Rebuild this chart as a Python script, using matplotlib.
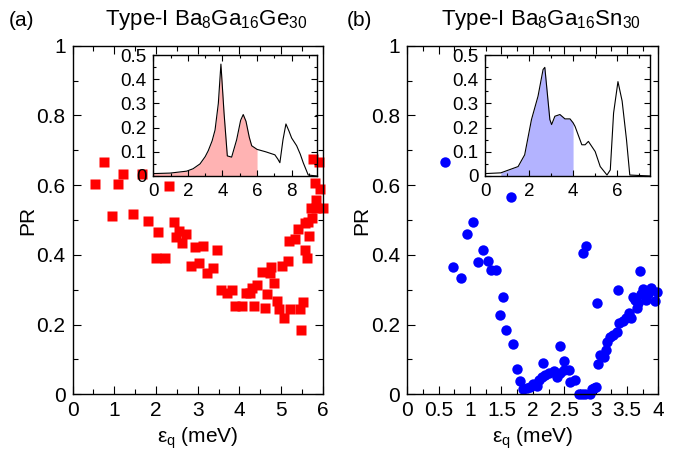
import numpy as np
import matplotlib
matplotlib.use('Agg')
import matplotlib.pyplot as plt
from matplotlib.ticker import MultipleLocator, FuncFormatter

plt.rcParams['font.family'] = 'Liberation Sans'
plt.rcParams['mathtext.fontset'] = 'custom'
plt.rcParams['mathtext.rm'] = 'Liberation Sans'
plt.rcParams['mathtext.it'] = 'Liberation Sans'
plt.rcParams['mathtext.default'] = 'regular'

# (a) Ba8Ga16Ge30 : participation ratio vs energy
ge_x = [0.55, 0.75, 1.10, 1.21, 1.66, 2.32, 0.94, 1.46, 1.81, 2.05,
        2.01, 2.21, 2.44, 2.56, 2.49, 2.73, 2.63, 2.85, 3.03, 2.93,
        3.13, 3.23, 3.37, 3.46, 3.55, 3.69, 3.81, 3.90, 4.06, 4.15,
        4.25, 4.31, 4.41, 4.35, 4.53, 4.72, 4.75, 4.66, 4.61, 4.83,
        4.90, 4.95, 5.03, 5.15, 5.07, 5.20, 5.19, 5.32, 5.40, 5.44,
        5.51, 5.47, 5.56, 5.64, 5.74, 5.56, 5.61, 5.67, 5.71, 5.84,
        5.99, 5.83, 5.80, 5.92, 5.75, 5.91]
ge_y = [0.602, 0.667, 0.602, 0.631, 0.631, 0.598, 0.513, 0.516, 0.497, 0.465,
        0.390, 0.390, 0.493, 0.469, 0.450, 0.460, 0.435, 0.369, 0.376, 0.422,
        0.426, 0.347, 0.362, 0.414, 0.299, 0.290, 0.299, 0.254, 0.254, 0.290,
        0.290, 0.304, 0.314, 0.254, 0.350, 0.347, 0.364, 0.288, 0.247, 0.318,
        0.269, 0.245, 0.369, 0.383, 0.218, 0.245, 0.441, 0.446, 0.474, 0.245,
        0.264, 0.185, 0.491, 0.495, 0.507, 0.414, 0.390, 0.455, 0.535, 0.535,
        0.535, 0.558, 0.605, 0.589, 0.674, 0.667]

# (b) Ba8Ga16Sn30
sn_x = [0.60, 1.65, 0.73, 0.85, 0.95, 1.04, 1.12, 1.20, 1.28, 1.33,
        1.41, 1.53, 1.47, 1.58, 1.69, 1.74, 1.80, 1.85, 1.90, 1.96,
        2.01, 2.06, 2.10, 2.14, 2.16, 2.19, 2.26, 2.34, 2.38, 2.43,
        2.44, 2.50, 2.50, 2.58, 2.59, 2.67, 2.73, 2.78, 2.83, 2.91,
        2.94, 2.98, 3.00, 2.80, 2.84, 3.02, 3.04, 3.07, 3.14, 3.16,
        3.19, 3.23, 3.28, 3.34, 3.35, 3.38, 3.43, 3.49, 3.54, 3.56,
        3.60, 3.63, 3.66, 3.68, 3.70, 3.72, 3.76, 3.80, 3.84, 3.89,
        3.94, 3.98]
sn_y = [0.667, 0.567, 0.366, 0.333, 0.459, 0.493, 0.379, 0.414, 0.383, 0.357,
        0.357, 0.280, 0.228, 0.185, 0.144, 0.072, 0.038, 0.014, 0.017, 0.022,
        0.030, 0.024, 0.041, 0.049, 0.089, 0.055, 0.060, 0.067, 0.049, 0.139,
        0.060, 0.096, 0.069, 0.071, 0.036, 0.041, 0.002, 0.002, 0.002, 0.002,
        0.014, 0.017, 0.022, 0.406, 0.426, 0.263, 0.086, 0.113, 0.107, 0.128,
        0.150, 0.164, 0.169, 0.178, 0.299, 0.204, 0.209, 0.218, 0.232, 0.220,
        0.280, 0.271, 0.247, 0.261, 0.355, 0.289, 0.303, 0.271, 0.289, 0.305,
        0.267, 0.294]

# insets: density of states
ge_dos_e = [0.0, 0.97, 1.93, 2.30, 2.70, 3.00, 3.18, 3.40, 3.57, 3.76, 3.91, 4.09,
            4.28, 4.53, 4.82, 5.05, 5.20, 5.36, 5.55, 5.69, 6.00, 6.50, 7.03,
            7.20, 7.32, 7.50, 7.67, 7.85, 8.00, 8.29, 8.50, 8.67, 8.96, 9.45]
ge_dos = [0.010, 0.012, 0.020, 0.030, 0.050, 0.080, 0.105, 0.145, 0.190, 0.300, 0.4625, 0.261,
          0.083, 0.078, 0.150, 0.230, 0.254, 0.226, 0.160, 0.125, 0.110, 0.100, 0.0875,
          0.070, 0.055, 0.150, 0.215, 0.185, 0.157, 0.125, 0.090, 0.055, 0.004, 0.0]
sn_dos_e = [0.0, 0.70, 1.49, 1.79, 2.10, 2.40, 2.63, 2.71, 2.94, 3.02, 3.17, 3.40,
            3.63, 3.86, 4.00, 4.09, 4.40, 4.55, 4.70, 5.01, 5.24, 5.55, 5.70,
            5.85, 6.05, 6.24, 6.44, 6.59, 7.5]
sn_dos = [0.010, 0.013, 0.039, 0.0875, 0.233, 0.330, 0.440, 0.449, 0.233, 0.2125, 0.247, 0.254,
          0.236, 0.236, 0.220, 0.205, 0.129, 0.129, 0.143, 0.101, 0.039, 0.004, 0.025,
          0.260, 0.390, 0.310, 0.150, 0.004, 0.0]

fmt = FuncFormatter(lambda v, p: '%g' % round(v, 6))


def style(ax, xmaj, xmin, ymaj, ymin, fs, L):
    ax.xaxis.set_major_locator(MultipleLocator(xmaj))
    ax.xaxis.set_minor_locator(MultipleLocator(xmin))
    ax.yaxis.set_major_locator(MultipleLocator(ymaj))
    ax.yaxis.set_minor_locator(MultipleLocator(ymin))
    ax.xaxis.set_major_formatter(fmt)
    ax.yaxis.set_major_formatter(fmt)
    ax.tick_params(which='both', direction='in', top=True, right=True,
                   labelsize=fs, width=0.8, pad=5)
    ax.tick_params(which='major', length=L)
    ax.tick_params(which='minor', length=L * 0.6)
    for s in ax.spines.values():
        s.set_linewidth(1.0)


fig = plt.figure(figsize=(6.9, 4.55), dpi=100)

panels = [
    dict(pos=[0.1051, 0.1334, 0.3630, 0.766], ins=[0.2222, 0.6132, 0.2368, 0.2659],
         x=ge_x, y=ge_y, m='s', c='#ff0000', ms=7, xmax=6, xmaj=1, xmin=0.5,
         de=ge_dos_e, d=ge_dos, dmax=9.45, f0=0.0, f1=6.0, fc='#ffb3b3',
         tag='(a)', tx=0.012,
         title='Type-I Ba$_8$Ga$_{16}$Ge$_{30}$'),
    dict(pos=[0.5903, 0.1334, 0.3638, 0.766], ins=[0.7036, 0.6132, 0.2380, 0.2659],
         x=sn_x, y=sn_y, m='o', c='#0000ff', ms=7.5, xmax=4, xmaj=0.5, xmin=0.25,
         de=sn_dos_e, d=sn_dos, dmax=7.5, f0=0.7, f1=4.0, fc='#b3b3ff',
         tag='(b)', tx=0.503,
         title='Type-I Ba$_8$Ga$_{16}$Sn$_{30}$'),
]

for p in panels:
    ax = fig.add_axes(p['pos'])
    ax.plot(p['x'], p['y'], p['m'], color=p['c'], ms=p['ms'], mec='none', clip_on=False)
    ax.set_xlim(0, p['xmax'])
    ax.set_ylim(0, 1)
    style(ax, p['xmaj'], p['xmin'], 0.2, 0.1, 15, 5.5)
    ax.set_ylabel('PR', fontsize=15)
    ax.yaxis.set_label_coords(-0.142, 0.5)
    ax.set_xlabel('ε$_q$ (meV)', fontsize=15, labelpad=4)
    fig.text(p['pos'][0] + p['pos'][2] / 2 + 0.012, 0.956, p['title'], fontsize=16,
             ha='center', va='center')
    fig.text(p['tx'], 0.956, p['tag'], fontsize=15, ha='left', va='center')

    axi = fig.add_axes(p['ins'])
    axi.patch.set_alpha(0)
    e = np.array(p['de'])
    d = np.array(p['d'])
    sel = (e >= p['f0'] - 1e-9) & (e <= p['f1'] + 1e-9)
    axi.fill_between(e[sel], 0, d[sel], color=p['fc'], lw=0)
    axi.plot(e, d, color='black', lw=0.8)
    axi.set_xlim(0, p['dmax'])
    axi.set_ylim(0, 0.5)
    style(axi, 2, 1, 0.1, 0.05, 13.5, 4)

fig.savefig('out.png', dpi=100)
